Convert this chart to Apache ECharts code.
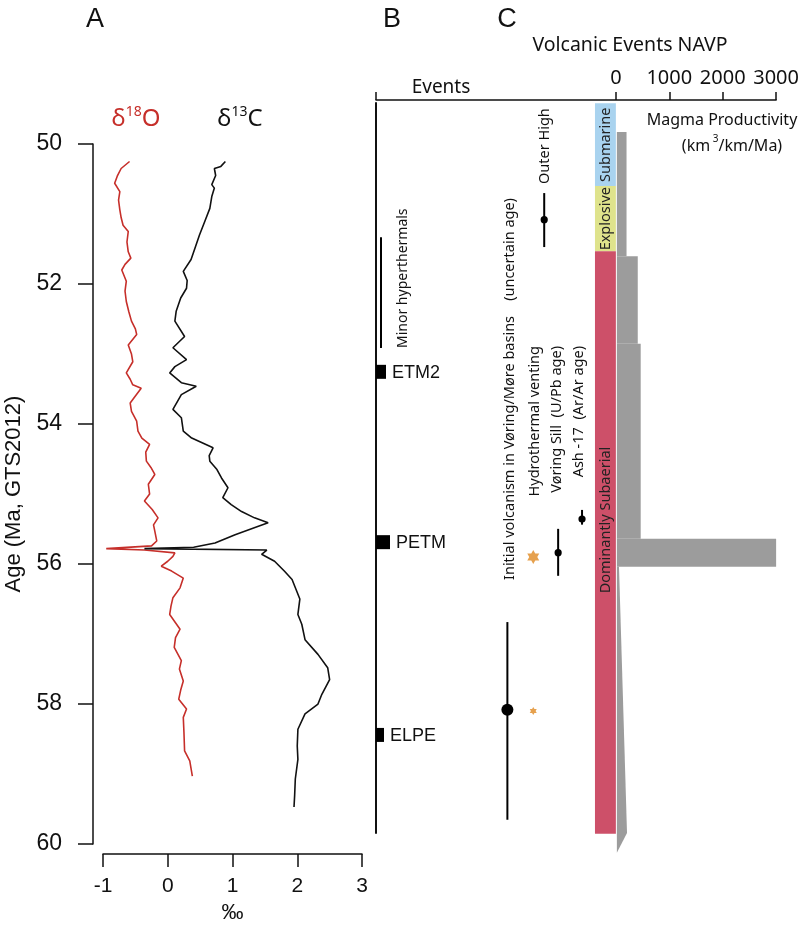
<!DOCTYPE html>
<html>
<head>
<meta charset="utf-8">
<script src="https://cdn.jsdelivr.net/npm/echarts@6/dist/echarts.min.js"></script>
<style>
  html, body { margin: 0; padding: 0; background: #fff; }
  #chart { width: 802px; height: 929px; }
</style>
</head>
<body>
<div id="chart"></div>
<script>
// --- panel A: isotope records (age in Ma, value in permil) ---
const o18Age = [50.25, 50.35, 50.46, 50.56, 50.68, 50.80, 50.94, 51.05, 51.16, 51.25, 51.40, 51.54, 51.63, 51.72, 51.80, 51.96, 52.10, 52.25, 52.40, 52.53, 52.64, 52.72, 52.87, 53.00, 53.11, 53.27, 53.36, 53.44, 53.49, 53.60, 53.70, 53.82, 53.96, 54.10, 54.20, 54.29, 54.40, 54.53, 54.62, 54.72, 54.86, 55.00, 55.10, 55.22, 55.34, 55.44, 55.53, 55.67, 55.74, 55.78, 55.80, 55.84, 55.89, 55.96, 56.03, 56.10, 56.20, 56.34, 56.48, 56.60, 56.72, 56.93, 57.05, 57.19, 57.38, 57.50, 57.67, 57.80, 57.93, 58.07, 58.19, 58.40, 58.67, 58.81, 59.03];
const o18Val = [-0.59, -0.72, -0.78, -0.82, -0.74, -0.76, -0.74, -0.72, -0.69, -0.61, -0.63, -0.61, -0.57, -0.66, -0.71, -0.64, -0.66, -0.64, -0.60, -0.56, -0.50, -0.48, -0.61, -0.56, -0.54, -0.64, -0.58, -0.54, -0.41, -0.50, -0.58, -0.56, -0.48, -0.46, -0.40, -0.28, -0.34, -0.33, -0.26, -0.20, -0.30, -0.28, -0.36, -0.24, -0.15, -0.22, -0.20, -0.17, -0.25, -0.95, -0.36, 0.11, 0.08, 0.00, -0.10, 0.06, 0.24, 0.19, 0.08, 0.05, 0.03, 0.19, 0.12, 0.10, 0.21, 0.18, 0.24, 0.20, 0.17, 0.29, 0.24, 0.25, 0.26, 0.34, 0.38];

const c13Age = [50.25, 50.32, 50.35, 50.45, 50.58, 50.63, 50.75, 50.92, 51.11, 51.30, 51.49, 51.65, 51.82, 51.95, 52.06, 52.20, 52.39, 52.53, 52.75, 52.91, 53.08, 53.18, 53.27, 53.41, 53.46, 53.58, 53.79, 53.91, 54.10, 54.20, 54.34, 54.45, 54.53, 54.65, 54.77, 54.91, 55.05, 55.15, 55.25, 55.34, 55.41, 55.46, 55.58, 55.70, 55.76, 55.78, 55.80, 55.86, 55.96, 56.10, 56.22, 56.36, 56.50, 56.72, 56.86, 57.08, 57.29, 57.48, 57.65, 57.86, 58.00, 58.14, 58.36, 58.60, 58.79, 59.07, 59.30, 59.47];
const c13Val = [0.89, 0.82, 0.72, 0.74, 0.68, 0.72, 0.68, 0.65, 0.57, 0.49, 0.42, 0.36, 0.24, 0.30, 0.29, 0.20, 0.13, 0.11, 0.26, 0.08, 0.29, 0.11, 0.03, 0.21, 0.44, 0.21, 0.08, 0.21, 0.24, 0.37, 0.70, 0.64, 0.65, 0.76, 0.83, 0.93, 0.85, 0.98, 1.14, 1.34, 1.55, 1.40, 1.04, 0.73, 0.40, -0.36, 1.53, 1.45, 1.65, 1.80, 1.92, 1.98, 2.04, 2.01, 2.07, 2.12, 2.32, 2.47, 2.50, 2.38, 2.32, 2.12, 2.01, 2.00, 2.01, 1.97, 1.96, 1.95];

// --- panel B: events ---
const eventNames = ['ETM2', 'PETM', 'ELPE'];
const eventAge = [53.25, 55.68, 58.43];
const hyperStart = 51.33, hyperEnd = 52.91;

// --- panel C: volcanic events ---
const volcNames = ['Initial volcanism', 'Vøring Sill', 'Ash -17', 'Outer High'];
const volcAge = [58.07, 55.83, 55.35, 51.08];
const volcMin = [56.82, 55.49, 55.22, 50.70];
const volcMax = [59.64, 56.16, 55.43, 51.47];
const ventAge = [55.89, 58.09];

const regimeNames = ['Submarine', 'Explosive', 'Dominantly Subaerial'];
const regimeTop = [49.42, 50.60, 51.53];
const regimeBottom = [50.60, 51.53, 59.84];

// magma productivity (km3/km/Ma)
const prodTop = [49.83, 51.60, 52.85, 55.63];
const prodBottom = [51.60, 52.85, 55.63, 56.03];
const prodValue = [200, 410, 465, 3000];
const wedgeAge = [56.03, 56.03, 59.83, 60.11];
const wedgeValue = [0, 40, 190, 0];

const prodTicks = [0, 1000, 2000, 3000];

// layout (column positions in px from the events line)
const EVENT_W = [10, 14, 8];
const VOLC_COL = [132, 183, 207, 169];
const VOLC_DOT = [6, 3.6, 3.6, 3.6];
const VENT_COL = 158;
const VENT_SIZE = [[12, 14], [7, 8]];
const REGIME_X = [220, 241];
const REGIME_COLORS = ['#a9d3ef', '#dfe38c', '#cd5069'];

const FH = 'Liberation Sans, Arial, sans-serif';
const FM = 'Noto Sans, Open Sans, sans-serif';

const chart = echarts.init(document.getElementById('chart'));

function txt(x, y, text, size, extra) {
  return Object.assign({
    type: 'text', x: x, y: y, silent: true,
    style: Object.assign({
      text: text, fontSize: size, fontFamily: FM, fill: '#111',
      align: 'center', verticalAlign: 'middle',
      textAlign: 'center', textVerticalAlign: 'middle'
    }, (extra && extra.style) || {})
  }, extra && extra.el || {});
}
function vtxt(x, y, text, size, align) {
  return {
    type: 'text', x: x, y: y, rotation: Math.PI / 2, silent: true,
    style: {
      text: text, fontSize: size, fontFamily: FM, fill: '#111',
      align: align, verticalAlign: 'middle',
      textAlign: align, textVerticalAlign: 'middle'
    }
  };
}

const deltaRich = {
  d: { fontSize: 24, fontFamily: FM, lineHeight: 28, verticalAlign: 'bottom' },
  s: { fontSize: 14, fontFamily: FM, lineHeight: 28, verticalAlign: 'top', padding: [2, 0, 0, 0] }
};

const option = {
  animation: false,
  backgroundColor: '#fff',
  grid: [
    { left: 103, top: 144, width: 259, height: 701 },
    { left: 376, right: 24, top: 103, bottom: 96 }
  ],
  xAxis: [
    {
      gridIndex: 0, type: 'value', min: -1, max: 3, interval: 1,
      position: 'bottom', offset: 10,
      axisLine: { onZero: false, lineStyle: { color: '#111', width: 1.5 } },
      axisTick: { length: 13, lineStyle: { color: '#111', width: 1.5 } },
      axisLabel: { fontSize: 21, fontFamily: FH, color: '#111', margin: 22 },
      splitLine: { show: false },
      name: '‰', nameLocation: 'middle', nameGap: 47,
      nameTextStyle: { fontSize: 22, fontFamily: FH, color: '#111' }
    },
    {
      gridIndex: 1, type: 'value', min: -4490, max: 3000,
      position: 'top', offset: 3,
      axisLine: { onZero: false, lineStyle: { color: '#111', width: 1.5 } },
      axisTick: { length: 8, customValues: [-4490].concat(prodTicks), lineStyle: { color: '#111', width: 1.5 } },
      axisLabel: { fontSize: 20, fontFamily: FM, color: '#111', margin: 12, customValues: prodTicks,
                   formatter: (v) => String(v) },
      splitLine: { show: false }
    },
    { gridIndex: 1, type: 'value', min: 0, max: 402, show: false }
  ],
  yAxis: [
    {
      gridIndex: 0, type: 'value', inverse: true, min: 50, max: 60, interval: 2,
      position: 'left', offset: 10,
      axisLine: { show: true, onZero: false, lineStyle: { color: '#111', width: 1.5 } },
      axisTick: { show: true, length: 15, lineStyle: { color: '#111', width: 1.5 } },
      axisLabel: { fontSize: 23, fontFamily: FH, color: '#111', margin: 31 },
      splitLine: { show: false },
      name: 'Age (Ma, GTS2012)', nameLocation: 'middle', nameGap: 68,
      nameTextStyle: { fontSize: 22, fontFamily: FH, color: '#111' }
    },
    {
      gridIndex: 1, type: 'value', inverse: true, min: 49.415, max: 59.829,
      position: 'left',
      axisLine: { show: true, onZero: false, lineStyle: { color: '#111', width: 2 } },
      axisTick: { show: false }, axisLabel: { show: false },
      splitLine: { show: false }
    }
  ],
  graphic: [
    txt(95, 20, 'A', 27, { style: { fontFamily: FH } }),
    txt(392, 20, 'B', 27, { style: { fontFamily: FH } }),
    txt(507, 20, 'C', 27, { style: { fontFamily: FH } }),
    txt(136, 117, '{d|δ}{s|18}{d|O}', 24, { style: { fill: '#c62f2a', rich: deltaRich } }),
    txt(240, 117, '{d|δ}{s|13}{d|C}', 24, { style: { fill: '#111', rich: deltaRich } }),
    txt(630, 45, 'Volcanic Events NAVP', 19.5),
    txt(441, 88, 'Events', 19),
    txt(722, 120, 'Magma Productivity', 16),
    txt(732, 144, '{t|(km}{s| 3}{t|/km/Ma)}', 16, {
      style: { rich: { t: { fontSize: 16, fontFamily: FM, lineHeight: 20, verticalAlign: 'bottom' },
                       s: { fontSize: 10, fontFamily: FM, lineHeight: 20, verticalAlign: 'top' } } }
    }),
    vtxt(403, 348, 'Minor hyperthermals', 14, 'left'),
    vtxt(510, 580, 'Initial volcanism in Vøring/Møre basins    (uncertain age)', 14.5, 'left'),
    vtxt(535, 346, 'Hydrothermal venting', 14.5, 'right'),
    vtxt(557, 346, 'Vøring Sill  (U/Pb age)', 14.5, 'right'),
    vtxt(579, 346, 'Ash -17  (Ar/Ar age)', 14.5, 'right'),
    vtxt(545, 184, 'Outer High', 14.5, 'left')
  ],
  series: [
    {
      type: 'line', xAxisIndex: 0, yAxisIndex: 0, showSymbol: false,
      lineStyle: { color: '#c62f2a', width: 1.6 },
      data: o18Age.map((a, i) => [o18Val[i], a])
    },
    {
      type: 'line', xAxisIndex: 0, yAxisIndex: 0, showSymbol: false,
      lineStyle: { color: '#111', width: 1.6 },
      data: c13Age.map((a, i) => [c13Val[i], a])
    },
    {
      // magma productivity bars
      type: 'custom', xAxisIndex: 1, yAxisIndex: 1, clip: false,
      data: prodValue.map((v, i) => [v, prodTop[i], prodBottom[i]]),
      encode: { x: 0, y: [1, 2] },
      renderItem: function (params, api) {
        const p0 = api.coord([0, api.value(1)]);
        const p1 = api.coord([api.value(0), api.value(2)]);
        return {
          type: 'rect',
          shape: { x: p0[0] + 1, y: p0[1], width: p1[0] - p0[0] - 1, height: p1[1] - p0[1] },
          style: { fill: '#9c9c9c' }
        };
      }
    },
    {
      // tapering productivity below the PETM
      type: 'custom', xAxisIndex: 1, yAxisIndex: 1, clip: false,
      data: wedgeValue.map((v, i) => [v, wedgeAge[i]]),
      encode: { x: 0, y: 1 },
      renderItem: function (params, api) {
        if (params.dataIndex !== 0) return null;
        const pts = wedgeValue.map((v, i) => {
          const p = api.coord([v, wedgeAge[i]]);
          return [p[0] + 1, p[1]];
        });
        return { type: 'polygon', shape: { points: pts }, style: { fill: '#9c9c9c' } };
      }
    },
    {
      // eruption regime bar
      type: 'custom', xAxisIndex: 2, yAxisIndex: 1, clip: false,
      data: regimeNames.map((n, i) => [REGIME_X[0], regimeTop[i], regimeBottom[i]]),
      encode: { x: 0, y: [1, 2] },
      renderItem: function (params, api) {
        const i = params.dataIndex;
        const a = api.coord([REGIME_X[0], regimeTop[i]]);
        const b = api.coord([REGIME_X[1], regimeBottom[i]]);
        const cx = (a[0] + b[0]) / 2;
        let ty, align;
        if (i === 2) { ty = api.coord([0, 56.41])[1]; align = 'left'; }
        else { ty = (a[1] + b[1]) / 2; align = 'center'; }
        return {
          type: 'group',
          children: [
            { type: 'rect', shape: { x: a[0], y: a[1], width: b[0] - a[0], height: b[1] - a[1] },
              style: { fill: REGIME_COLORS[i] } },
            { type: 'text', x: cx, y: ty, rotation: Math.PI / 2,
              style: { text: regimeNames[i], fontSize: 14.5, fontFamily: FM, fill: '#222',
                       align: align, verticalAlign: 'middle', textAlign: align, textVerticalAlign: 'middle' } }
          ]
        };
      }
    },
    {
      // hyperthermal events
      type: 'custom', xAxisIndex: 2, yAxisIndex: 1, clip: false,
      data: eventAge.map((a) => [0, a]),
      encode: { x: 0, y: 1 },
      renderItem: function (params, api) {
        const i = params.dataIndex;
        const p = api.coord([0, eventAge[i]]);
        return {
          type: 'group',
          children: [
            { type: 'rect', shape: { x: p[0], y: p[1] - 7, width: EVENT_W[i], height: 14 },
              style: { fill: '#000' } },
            { type: 'text', x: p[0] + EVENT_W[i] + 6, y: p[1] + 1,
              style: { text: eventNames[i], fontSize: 18, fontFamily: FH, fill: '#111',
                       align: 'left', verticalAlign: 'middle', textAlign: 'left', textVerticalAlign: 'middle' } }
          ]
        };
      }
    },
    {
      // minor hyperthermals range
      type: 'custom', xAxisIndex: 2, yAxisIndex: 1, clip: false,
      data: [[5, hyperStart, hyperEnd]],
      encode: { x: 0, y: [1, 2] },
      renderItem: function (params, api) {
        const a = api.coord([api.value(0), api.value(1)]);
        const b = api.coord([api.value(0), api.value(2)]);
        return { type: 'line', shape: { x1: a[0], y1: a[1], x2: b[0], y2: b[1] },
                 style: { stroke: '#000', lineWidth: 2 } };
      }
    },
    {
      // dated volcanic events with age ranges
      type: 'custom', xAxisIndex: 2, yAxisIndex: 1, clip: false,
      data: volcAge.map((a, i) => [VOLC_COL[i], volcMin[i], volcMax[i], a]),
      encode: { x: 0, y: [1, 2, 3] },
      renderItem: function (params, api) {
        const i = params.dataIndex;
        const a = api.coord([api.value(0), api.value(1)]);
        const b = api.coord([api.value(0), api.value(2)]);
        const m = api.coord([api.value(0), api.value(3)]);
        return {
          type: 'group',
          children: [
            { type: 'line', shape: { x1: a[0], y1: a[1], x2: b[0], y2: b[1] },
              style: { stroke: '#000', lineWidth: 2 } },
            { type: 'circle', shape: { cx: m[0], cy: m[1], r: VOLC_DOT[i] }, style: { fill: '#000' } }
          ]
        };
      }
    },
    {
      // hydrothermal venting
      type: 'scatter', xAxisIndex: 2, yAxisIndex: 1,
      symbol: 'path://M50 0L64.4 25L93.3 25L78.9 50L93.3 75L64.4 75L50 100L35.6 75L6.7 75L21.1 50L6.7 25L35.6 25Z',
      symbolSize: function (val, params) { return VENT_SIZE[params.dataIndex]; },
      itemStyle: { color: '#e08a22' },
      data: ventAge.map((a) => [VENT_COL, a])
    }
  ]
};

chart.setOption(option);
</script>
</body>
</html>
